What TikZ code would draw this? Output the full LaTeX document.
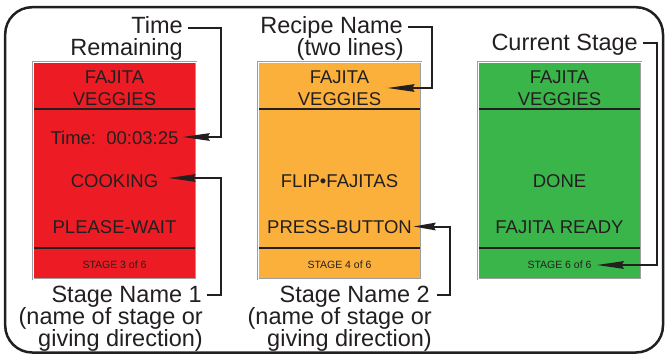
\documentclass[tikz,border=0pt]{standalone}
\usepackage{fontspec}
\setmainfont{Liberation Sans}
\usetikzlibrary{arrows.meta,calc}
\definecolor{cred}{RGB}{237,28,36}
\definecolor{corange}{RGB}{251,176,59}
\definecolor{cgreen}{RGB}{57,181,74}
\definecolor{ink}{RGB}{35,31,32}
\begin{document}
\begin{tikzpicture}[x=1pt,y=-1pt,
 paneltxt/.style={inner sep=0pt,anchor=base,text=ink,font=\fontsize{18.5}{22}\selectfont},
 smalltxt/.style={inner sep=0pt,anchor=base,text=ink,font=\fontsize{10.5}{12}\selectfont},
 lbl/.style={inner sep=0pt,anchor=base east,text=ink,font=\fontsize{23.5}{26}\selectfont},
 conn/.style={draw=ink,line width=2pt},
 tip/.style={-{Stealth[length=27pt,width=7.5pt,inset=2pt]}},
 tipshort/.style={-{Stealth[length=22pt,width=7.5pt,inset=2pt]}},
 panel/.style={draw=gray!75, double=white, double distance=0.8pt, line width=0.7pt},
 divider/.style={draw=ink, line width=1.3pt}]

\useasboundingbox (0,0) rectangle (665,356);
\draw[ink,line width=2.5pt,rounded corners=27pt] (5.2,7.2) rectangle (663,352.5);

% panels
\fill[cred] (33,62) rectangle (196,279);
\draw[panel] (33,62) rectangle (196,279);
\draw[divider] (34,109) -- (195,109);
\draw[divider] (34,248) -- (195,248);

\fill[corange] (258,62) rectangle (421,279);
\draw[panel] (258,62) rectangle (421,279);
\draw[divider] (259,109) -- (420,109);
\draw[divider] (259,248) -- (420,248);

\fill[cgreen] (478,62) rectangle (641,279);
\draw[panel] (478,62) rectangle (641,279);
\draw[divider] (479,109) -- (640,109);
\draw[divider] (479,248) -- (640,248);

% red panel texts
\node[paneltxt] (r1) at (114.5,83) {FAJITA};
\node[paneltxt] (r2) at (114.5,105) {VEGGIES};
\node[paneltxt] (rt) at (114.5,144) {Time:\ \ 00:03:25};
\node[paneltxt] (rc) at (114.5,187) {COOKING};
\node[paneltxt] (rp) at (114.5,233) {PLEASE-WAIT};
\node[smalltxt] (rs) at (114.5,268) {STAGE 3 of 6};

% orange panel texts
\node[paneltxt] (o1) at (339.5,83) {FAJITA};
\node[paneltxt] (o2) at (339.5,105) {VEGGIES};
\node[paneltxt] (oc) at (339.5,187) {FLIP•FAJITAS};
\node[paneltxt] (op) at (339.5,233) {PRESS-BUTTON};
\node[smalltxt] (os) at (339.5,268) {STAGE 4 of 6};

% green panel texts
\node[paneltxt] (g1) at (559.5,83) {FAJITA};
\node[paneltxt] (g2) at (559.5,105) {VEGGIES};
\node[paneltxt] (gc) at (559.5,187) {DONE};
\node[paneltxt] (gp) at (559.5,233) {FAJITA READY};
\node[smalltxt] (gs) at (559.5,268) {STAGE 6 of 6};

% labels
\node[lbl] (lTime) at (183,33) {Time};
\node[lbl] (lRem) at (183,56) {Remaining};
\node[lbl] (lRec) at (403,33) {Recipe Name};
\node[lbl] (lTwo) at (404,55) {(two lines)};
\node[lbl] (lCur) at (638,50.5) {Current Stage};
\node[lbl] (lS1) at (202,302) {Stage Name 1};
\node[lbl] (lS1b) at (203,324) {(name of stage or};
\node[lbl] (lS1c) at (203,346.5) {giving direction)};
\node[lbl] (lS2) at (430,302) {Stage Name 2};
\node[lbl] (lS2b) at (432,324) {(name of stage or};
\node[lbl] (lS2c) at (432,346.5) {giving direction)};

% connectors
\coordinate (kT1) at (221,28);
\coordinate (kT2) at (221,137);
\draw[conn,tip] ($(lTime.base east)+(5,-5)$) -- (kT1) -- (kT2) -- ($(rt.base east)+(4,-7)$);

\coordinate (kS1a) at (221,295);
\coordinate (kS1b) at (221,178);
\draw[conn,tip] ($(lS1.base east)+(5,-7)$) -- (kS1a) -- (kS1b) -- ($(rc.base east)+(10,-9)$);

\coordinate (kR1) at (432,27);
\coordinate (kR2) at (432,88);
\draw[conn,tip] ($(lRec.base east)+(5,-6)$) -- (kR1) -- (kR2) -- ($(o2.base east)+(6,-17)$);

\coordinate (kS2a) at (450,295);
\coordinate (kS2b) at (450,226.5);
\draw[conn,tipshort] ($(lS2.base east)+(7,-7)$) -- (kS2a) -- (kS2b) -- ($(op.base east)+(1.5,-6.5)$);

\coordinate (kC1) at (657,43);
\coordinate (kC2) at (657,265);
\draw[conn,tip] ($(lCur.base east)+(5,-7.5)$) -- (kC1) -- (kC2) -- ($(gs.base east)+(5,-3)$);
\end{tikzpicture}
\end{document}
